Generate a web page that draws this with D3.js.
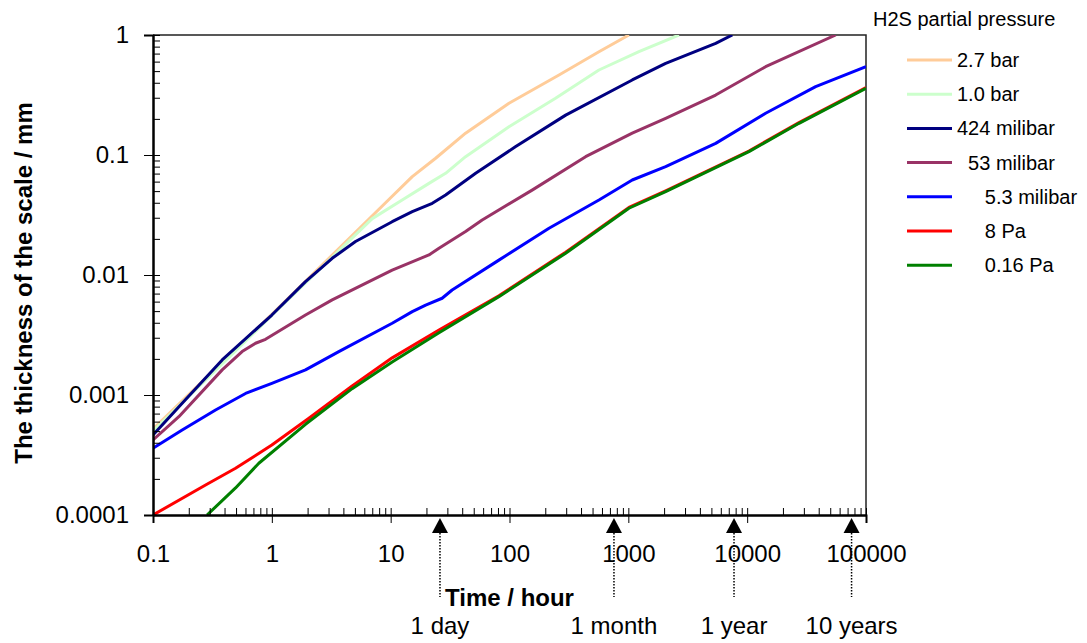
<!DOCTYPE html>
<html>
<head>
<meta charset="utf-8">
<script src="https://cdn.jsdelivr.net/npm/d3@7"></script>
<style>
    body { margin: 0; background: #fff; }
    text { font-family: Arial, "Liberation Sans", sans-serif; fill: #000; }
</style>
</head>
<body>
<svg id="chart"></svg>
<script>
// Data: [time in hours, scale thickness in mm]
const bar27 = [[0.1,0.00052],[1,0.0047],[10,0.044],[15.2,0.066],[23.9,0.094],[42.7,0.152],[99,0.27],[261,0.464],[566,0.726],[1012,1.0]];
const bar10 = [[0.1,0.0005],[1,0.0046],[7,0.0295],[12.5,0.0422],[21,0.058],[29,0.0704],[42.7,0.0968],[99,0.172],[244,0.297],[566,0.511],[1228,0.726],[2666,1.0]];
const mbar424 = [[0.1,0.000464],[0.176,0.000853],[0.382,0.00196],[1,0.00464],[1.92,0.0088],[3.22,0.01377],[5.06,0.019],[10.3,0.0278],[15.2,0.0337],[22.4,0.0396],[29,0.0464],[51.9,0.0704],[112,0.117],[297,0.215],[1079,0.422],[2061,0.581],[5432,0.853],[7500,1.0]];
const mbar53 = [[0.1,0.000422],[0.165,0.00066],[0.382,0.00162],[0.562,0.0023],[0.729,0.0027],[0.885,0.00291],[1.92,0.00464],[3.22,0.0062],[10.3,0.011],[21,0.0147],[25.5,0.0167],[42.7,0.023],[58.9,0.0287],[155,0.051],[437,0.0968],[1079,0.152],[2061,0.202],[5432,0.316],[14300,0.544],[55600,1.0]];
const mbar53b = [[0.1,0.00036],[0.176,0.00051],[0.336,0.00075],[0.601,0.00103],[1,0.00125],[1.92,0.00162],[3.66,0.0023],[10.3,0.00396],[15.2,0.00495],[19.7,0.00562],[27.1,0.0064],[32.9,0.0075],[81.4,0.0133],[215,0.0245],[566,0.0422],[1079,0.0619],[2061,0.0799],[5432,0.125],[14300,0.2226],[37700,0.371],[100000,0.544]];
const pa8 = [[0.1,0.0001],[0.277,0.000178],[0.495,0.000245],[1,0.000383],[2.05,0.00064],[4.74,0.00119],[10.3,0.00204],[25.5,0.00348],[81.4,0.0067],[297,0.0155],[1012,0.0366],[2061,0.0503],[10350,0.108],[27300,0.186],[100000,0.365]];
const pa016 = [[0.285,0.0001],[0.495,0.000168],[0.777,0.00027],[1.92,0.00057],[4.74,0.00113],[10.3,0.00188],[25.5,0.0033],[81.4,0.0066],[297,0.0152],[1012,0.036],[2061,0.0495],[10350,0.1066],[27300,0.1837],[100000,0.36]];

const seriesData = [bar27, bar10, mbar424, mbar53, mbar53b, pa8, pa016];
const seriesNames = ["2.7 bar", "1.0 bar", "424 milibar", "  53 milibar", "     5.3 milibar", "     8 Pa", "     0.16 Pa"];
const seriesColors = ["#FFCC99", "#CCFFCC", "#000080", "#993366", "#0000FF", "#FF0000", "#008000"];

const xTicks = [0.1, 1, 10, 100, 1000, 10000, 100000];
const yTicks = [0.0001, 0.001, 0.01, 0.1, 1];

// Time markers
const markerHours = [26, 757, 7750, 75600];
const markerLabels = ["1 day", "1 month", "1 year", "10 years"];

// Size
const width = 1087;
const height = 643;
const margin = { top: 35, right: 221, bottom: 128, left: 153 };

const svg = d3.select("#chart")
    .attr("width", width)
    .attr("height", height);

const x = d3.scaleLog()
    .domain([0.1, 100000])
    .range([margin.left, width - margin.right]);

const y = d3.scaleLog()
    .domain([0.0001, 1])
    .range([height - margin.bottom, margin.top]);

const x0 = x.range()[0], x1 = x.range()[1];
const y0 = y.range()[0], y1 = y.range()[1];

svg.append("defs").append("clipPath")
    .attr("id", "plot-clip")
    .append("rect")
    .attr("x", x0).attr("y", y1)
    .attr("width", x1 - x0).attr("height", y0 - y1);

// Frame (top + right)
svg.append("path")
    .attr("d", `M${x0},${y1}H${x1}V${y0}`)
    .attr("fill", "none")
    .attr("stroke", "#222")
    .attr("stroke-width", 1.5);

// Lines
const line = d3.line()
    .x(d => x(d[0]))
    .y(d => y(d[1]));

svg.append("g")
    .attr("clip-path", "url(#plot-clip)")
    .selectAll("path")
    .data(seriesData)
    .enter()
    .append("path")
    .attr("d", line)
    .attr("fill", "none")
    .attr("stroke", (d, i) => seriesColors[i])
    .attr("stroke-width", 3)
    .attr("stroke-linejoin", "round");

// Axes: major ticks outside with labels, all ticks inside
svg.append("g")
    .attr("transform", `translate(0,${y0})`)
    .call(d3.axisBottom(x).tickValues(xTicks).tickFormat(d => String(d)).tickSize(8).tickPadding(22));

svg.append("g")
    .attr("transform", `translate(0,${y0})`)
    .call(d3.axisBottom(x).tickValues(x.ticks()).tickFormat("").tickSize(-7).tickSizeOuter(0));

svg.append("g")
    .attr("transform", `translate(${x0},0)`)
    .call(d3.axisLeft(y).tickValues(yTicks).tickFormat(d => String(d)).tickSize(9).tickPadding(15));

svg.append("g")
    .attr("transform", `translate(${x0},0)`)
    .call(d3.axisLeft(y).tickValues(y.ticks()).tickFormat("").tickSize(-7).tickSizeOuter(0));

svg.selectAll(".domain").attr("stroke", "#000").attr("stroke-width", 2);
svg.selectAll(".tick line").attr("stroke", "#000");
svg.selectAll(".tick text").style("font-size", "24px").attr("fill", "#000");

// Axis titles
svg.append("text")
    .attr("x", (x0 + x1) / 2)
    .attr("y", 606)
    .attr("text-anchor", "middle")
    .style("font-size", "24px")
    .style("font-weight", "bold")
    .text("Time / hour");

svg.append("text")
    .attr("transform", "rotate(-90)")
    .attr("x", -283)
    .attr("y", 32)
    .attr("text-anchor", "middle")
    .style("font-size", "24px")
    .style("font-weight", "bold")
    .text("The thickness of the scale / mm");

// Time markers: arrow + dotted line + label
const markers = svg.selectAll(".marker")
    .data(markerHours)
    .enter()
    .append("g")
    .attr("transform", d => `translate(${x(d)},0)`);

markers.append("path")
    .attr("d", `M0,${y0 + 3}L-8,${y0 + 18}L8,${y0 + 18}Z`)
    .attr("fill", "#000");

markers.append("line")
    .attr("y1", y0 + 18)
    .attr("y2", 597)
    .attr("stroke", "#000")
    .attr("stroke-width", 1.5)
    .attr("stroke-dasharray", "1.5,1.5");

markers.append("text")
    .attr("y", 634)
    .attr("text-anchor", "middle")
    .style("font-size", "24px")
    .text((d, i) => markerLabels[i]);

// Legend
const legend = svg.append("g")
    .attr("transform", "translate(873, 0)");

legend.append("text")
    .attr("y", 26)
    .style("font-size", "20px")
    .text("H2S partial pressure");

const items = legend.selectAll(".item")
    .data(seriesNames)
    .enter()
    .append("g")
    .attr("transform", (d, i) => `translate(0,${60 + i * 34.2})`);

items.append("line")
    .attr("x1", 34).attr("x2", 79)
    .attr("stroke", (d, i) => seriesColors[i])
    .attr("stroke-width", 3);

items.append("text")
    .attr("x", 84)
    .attr("y", 7)
    .style("font-size", "20px")
    .style("white-space", "pre")
    .text(d => d);
</script>
</body>
</html>
